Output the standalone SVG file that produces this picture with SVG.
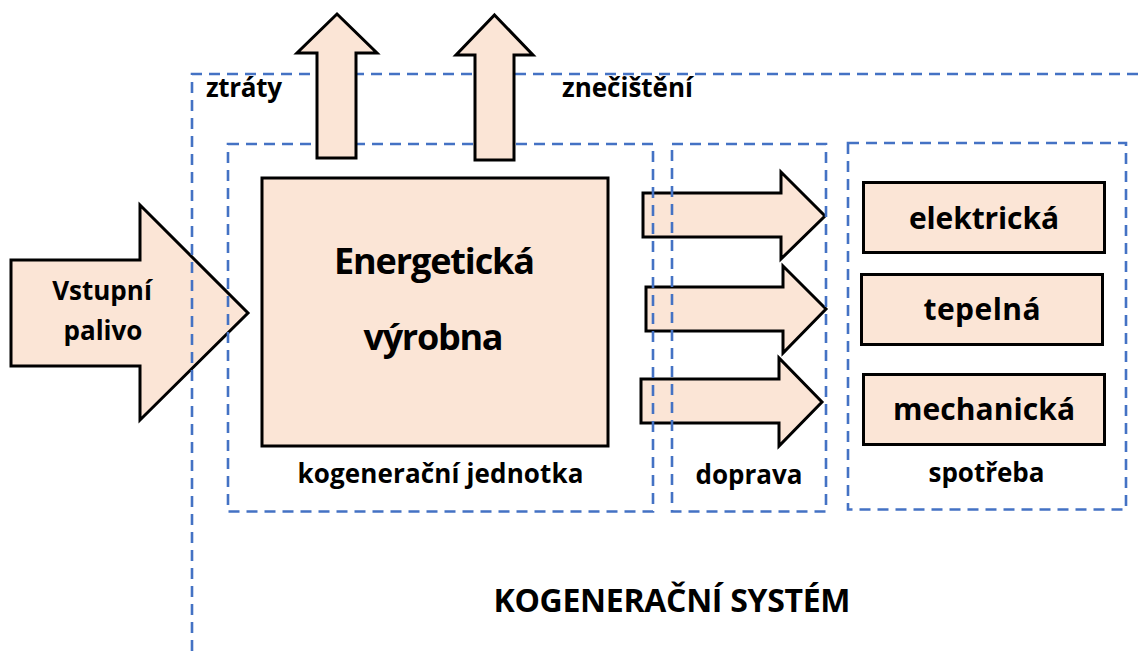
<svg xmlns="http://www.w3.org/2000/svg" width="1142" height="651" viewBox="0 0 1142 651">
<style>
.blk{fill:#FBE5D6;stroke:#000;stroke-width:3;stroke-linejoin:miter}
.dash{fill:none;stroke:#4472C4;stroke-width:2.6;stroke-dasharray:11 7}
text{font-family:"Open Sans","Liberation Sans",sans-serif;font-weight:bold;fill:#000}
.m{text-anchor:middle}
</style>
<rect width="1142" height="651" fill="#fff"/>
<g id="connectors-flow">
<polygon id="arrow-input" class="blk" points="11,260 140,260 140,205 248,313 140,420 140,366 11,366"/>
<polygon id="arrow-out1" class="blk" points="643,193 781,193 781,172 825,216 781,259 781,237 643,237"/>
<polygon id="arrow-out2" class="blk" points="646,287 783,287 783,266 826,309 783,353 783,331 646,331"/>
<polygon id="arrow-out3" class="blk" points="641,379 779,379 779,358 822,402 779,446 779,423 641,423"/>
</g>
<g id="system">
<path class="dash" d="M192,651 V74 H1142"/>
<text x="672" y="612" class="m" font-size="32" textLength="357">KOGENERAČNÍ SYSTÉM</text>
</g>
<g id="unit">
<rect class="dash" x="228" y="144" width="425" height="367.5"/>
<text x="440.5" y="483" class="m" font-size="26" textLength="286">kogenerační jednotka</text>
</g>
<g id="transport">
<rect class="dash" x="672" y="144" width="154" height="367.5"/>
<text x="749" y="484" class="m" font-size="26" textLength="107">doprava</text>
</g>
<g id="consumption">
<rect class="dash" x="848" y="143" width="278" height="366.5"/>
<text x="986.5" y="482" class="m" font-size="26" textLength="116">spotřeba</text>
</g>
<g id="input">
<text x="102" y="300" class="m" font-size="26">Vstupní</text>
<text x="103" y="340" class="m" font-size="26">palivo</text>
</g>
<g id="plant">
<rect class="blk" x="262" y="178" width="346" height="268"/>
<text x="434.5" y="274" class="m" font-size="36" textLength="201">Energetická</text>
<text x="433.5" y="350" class="m" font-size="36" textLength="140">výrobna</text>
</g>
<g id="electric">
<rect class="blk" x="863.5" y="182.5" width="241" height="70"/>
<text x="984" y="229" class="m" font-size="30" textLength="150">elektrická</text>
</g>
<g id="thermal">
<rect class="blk" x="861.5" y="274.5" width="241" height="70"/>
<text x="982" y="320" class="m" font-size="30" textLength="117">tepelná</text>
</g>
<g id="mechanical">
<rect class="blk" x="863.5" y="374.5" width="241" height="70"/>
<text x="984" y="420" class="m" font-size="30" textLength="182">mechanická</text>
</g>
<g id="connectors-out">
<polygon id="arrow-losses" class="blk" points="337,14 377,53 356,53 356,158 317,158 317,53 297,53"/>
<polygon id="arrow-pollution" class="blk" points="494.5,15 533,55 514,55 514,160 475,160 475,55 456,55"/>
</g>
<g id="losses"><text x="206" y="97" font-size="26" textLength="76">ztráty</text></g>
<g id="pollution"><text x="562" y="97" font-size="26" textLength="131">znečištění</text></g>
</svg>
